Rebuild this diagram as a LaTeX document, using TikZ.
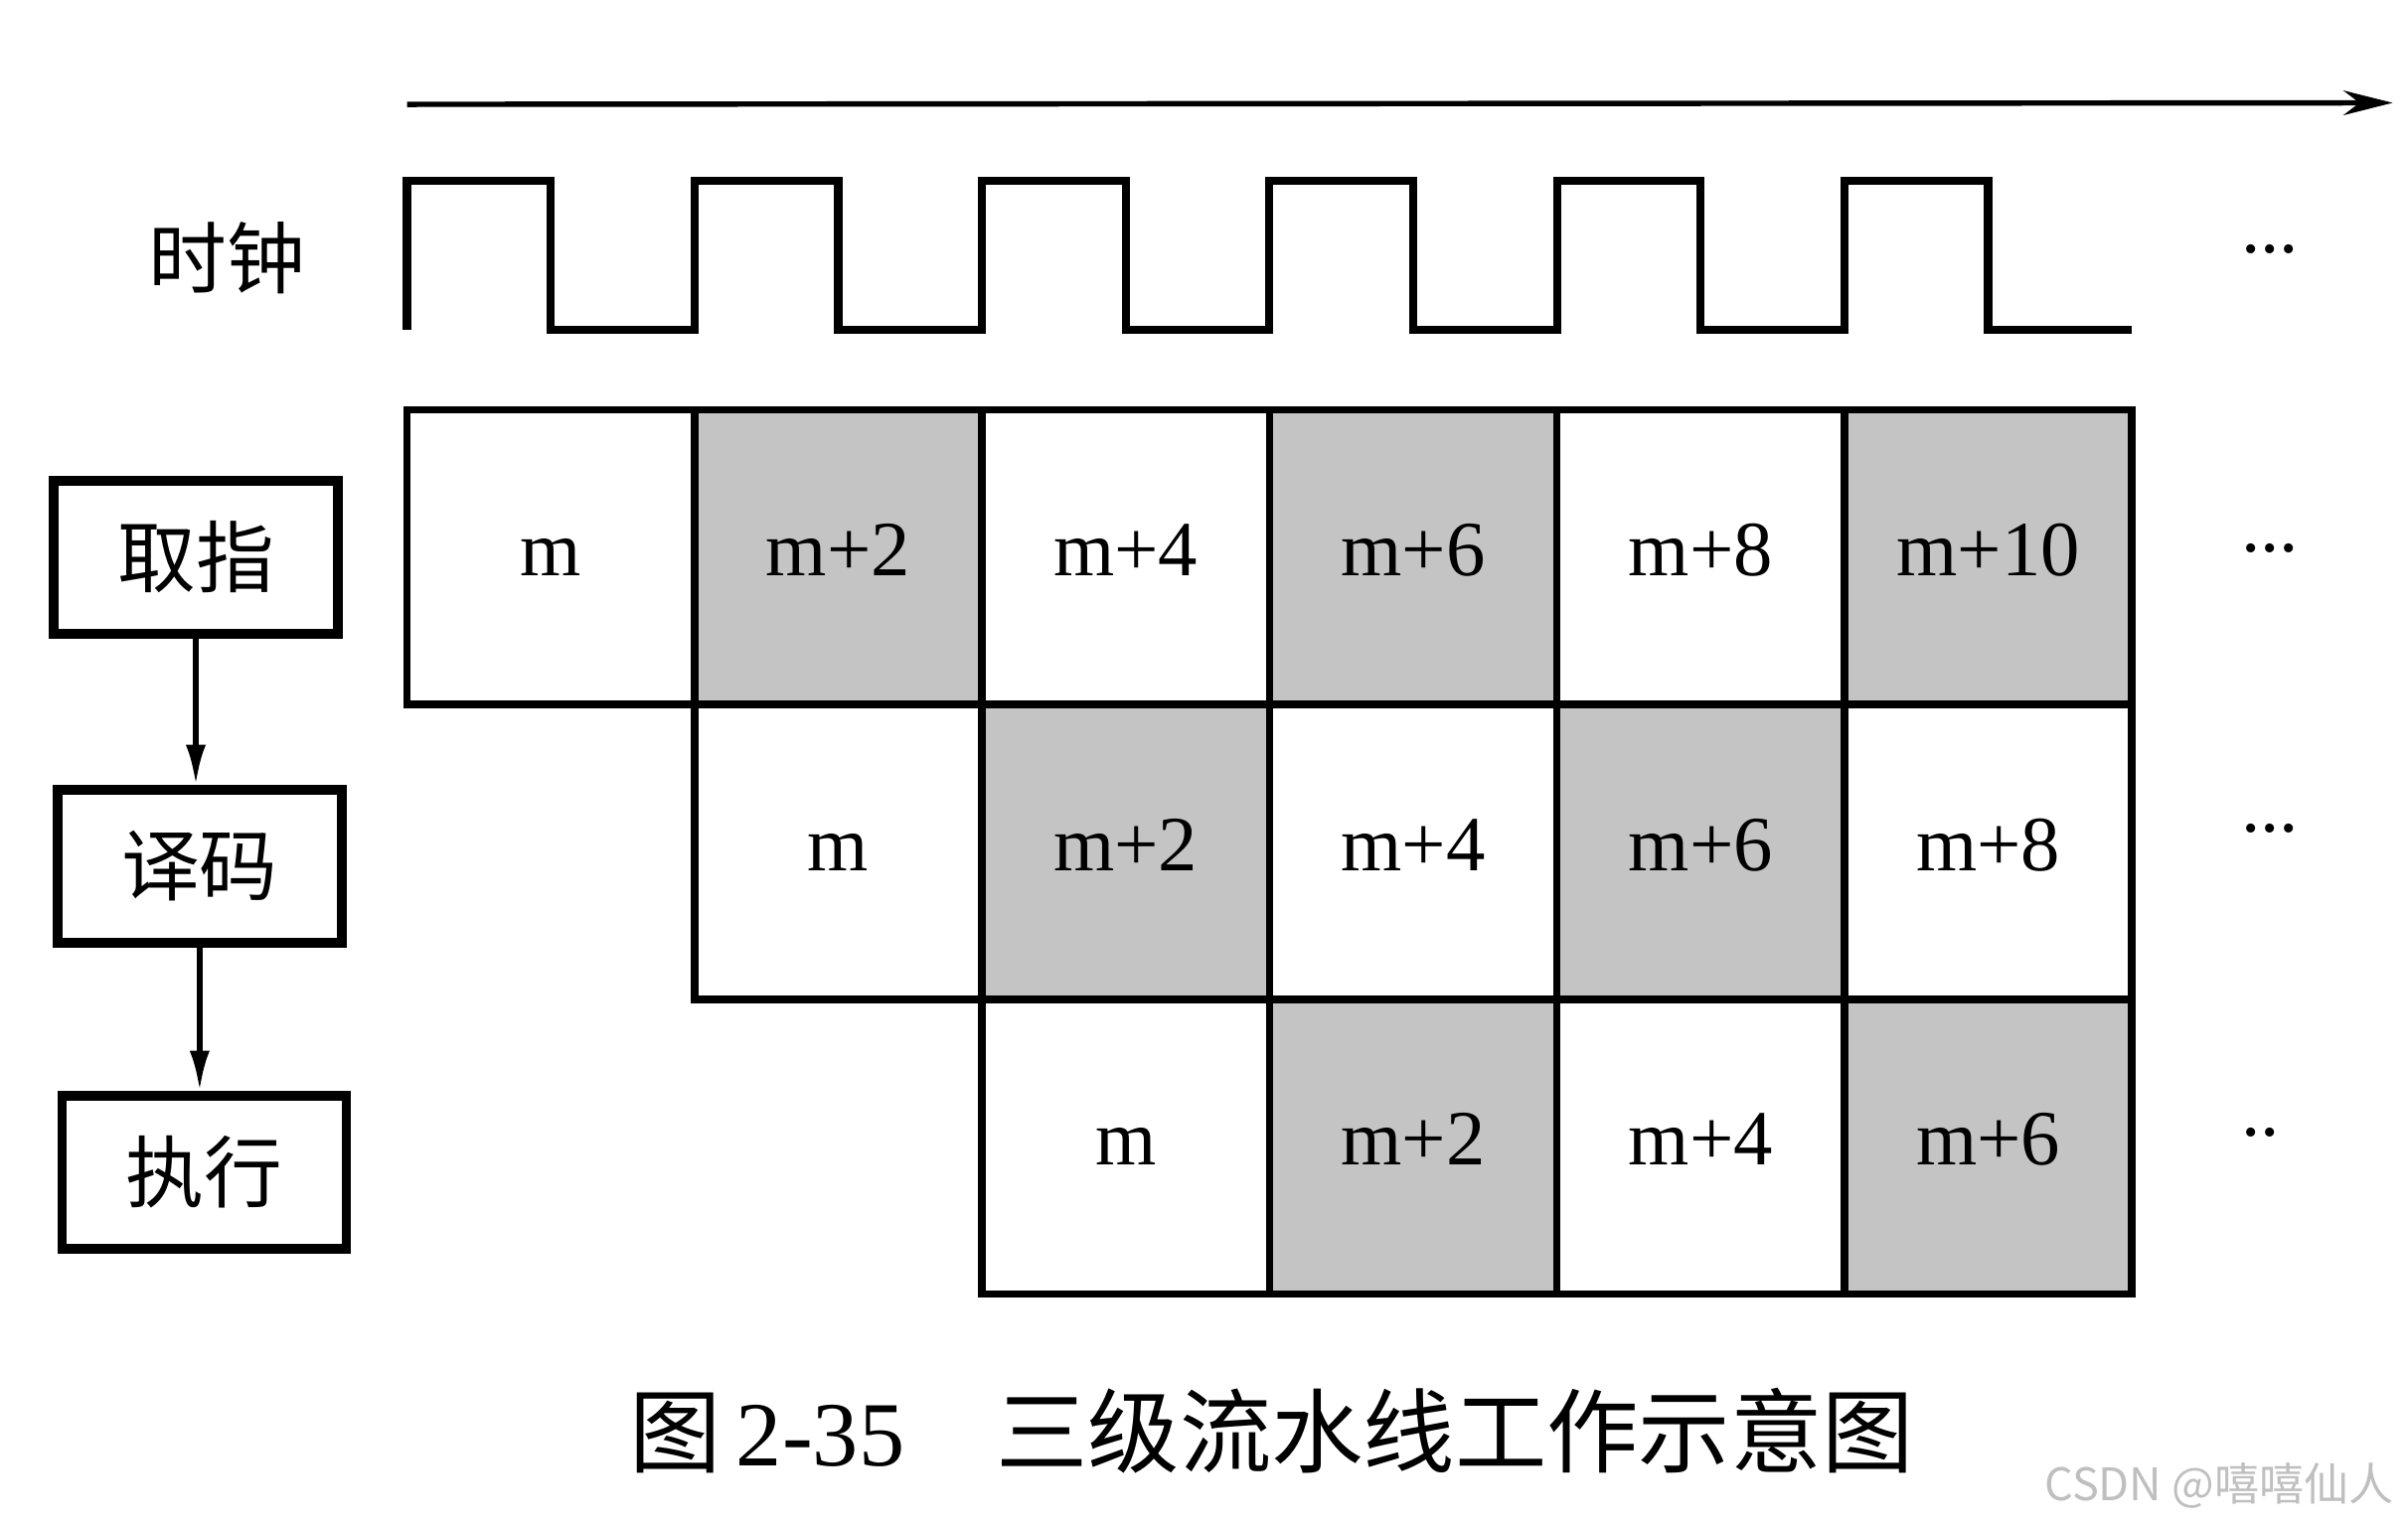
\documentclass[tikz,border=0pt]{standalone}
\usepackage{fontspec}
\setmainfont{Liberation Serif}
\newfontfamily\cjk{Noto Sans CJK SC}
\usepackage{tikz}
\usetikzlibrary{arrows.meta, positioning}

\begin{document}
\begin{tikzpicture}[
  node distance=0pt,
  cell/.style={draw, line width=1.4pt, outer sep=0pt, inner sep=0pt, minimum width=1.872cm, minimum height=1.92cm, text height=0.68em, text depth=0pt, font=\fontsize{14.5}{17}\selectfont},
  shaded/.style={cell, fill=black!23},
  stage/.style={draw, line width=1.8pt, minimum width=1.85cm, minimum height=1cm, font=\cjk\fontsize{14.5}{17}\selectfont},
  thickarrow/.style={-{Latex[length=2.6mm, width=1.3mm]}, line width=1pt},
  dots/.style={font=\fontsize{7}{8}\selectfont},
]
\useasboundingbox (0,0) rectangle (15.68,9.94);

% Time axis
\coordinate (tstart) at (2.65,9.26);
\coordinate (tend) at (15.58,9.27);
\draw[-{Stealth[length=3.2mm, width=1.6mm]}, line width=1pt] (tstart) -- (tend);

% Clock
\node[font=\cjk\fontsize{14.5}{17}\selectfont] (clk) at (1.48,8.26) {时钟};
\draw[line width=1.5pt] (2.65,7.79) \foreach \i in {1,...,6} { -- ++(0,0.97) -- ++(0.936,0) -- ++(0,-0.97) -- ++(0.936,0) };
\node[dots] (clkdots) at (14.78,8.29) {\textbullet\hspace{1pt}\textbullet\hspace{1pt}\textbullet};

% Stages
\node[stage] (IF) at (1.275,6.31) {取指};
\node[stage, below=0.95cm of IF, xshift=0.025cm] (ID) {译码};
\node[stage, below=0.93cm of ID, xshift=0.03cm] (EX) {执行};

% Fetch row
\node[cell, anchor=north west] (Fm) at (2.65,7.27) {m};
\node[shaded, right=of Fm] (Fm2) {m+2};
\node[cell, right=of Fm2] (Fm4) {m+4};
\node[shaded, right=of Fm4] (Fm6) {m+6};
\node[cell, right=of Fm6] (Fm8) {m+8};
\node[shaded, right=of Fm8] (Fm10) {m+10};

% Decode row
\node[cell, below=of Fm2] (Dm) {m};
\node[shaded, right=of Dm] (Dm2) {m+2};
\node[cell, right=of Dm2] (Dm4) {m+4};
\node[shaded, right=of Dm4] (Dm6) {m+6};
\node[cell, right=of Dm6] (Dm8) {m+8};

% Execute row
\node[cell, below=of Dm2] (Em) {m};
\node[shaded, right=of Em] (Em2) {m+2};
\node[cell, right=of Em2] (Em4) {m+4};
\node[shaded, right=of Em4] (Em6) {m+6};

\node[dots] (Fdots) at (14.78,6.34) {\textbullet\hspace{1pt}\textbullet\hspace{1pt}\textbullet};
\node[dots] (Ddots) at (14.78,4.52) {\textbullet\hspace{1pt}\textbullet\hspace{1pt}\textbullet};
\node[dots] (Edots) at (14.72,2.54) {\textbullet\hspace{1pt}\textbullet};

% Arrows
\draw[thickarrow] (IF.south) -- (IF.south |- ID.north);
\draw[thickarrow] (ID.south) -- (ID.south |- EX.north);

% Caption
\node[font=\fontsize{17}{20}\selectfont] (caption) at (8.28,0.62) {{\cjk 图}\,2-35\quad{\cjk 三级流水线工作示意图}};
\node[text=black!25, font=\cjk\fontsize{8.3}{10}\selectfont] (mark) at (14.45,0.26) {CSDN @嘻嘻仙人};

\end{tikzpicture}
\end{document}
